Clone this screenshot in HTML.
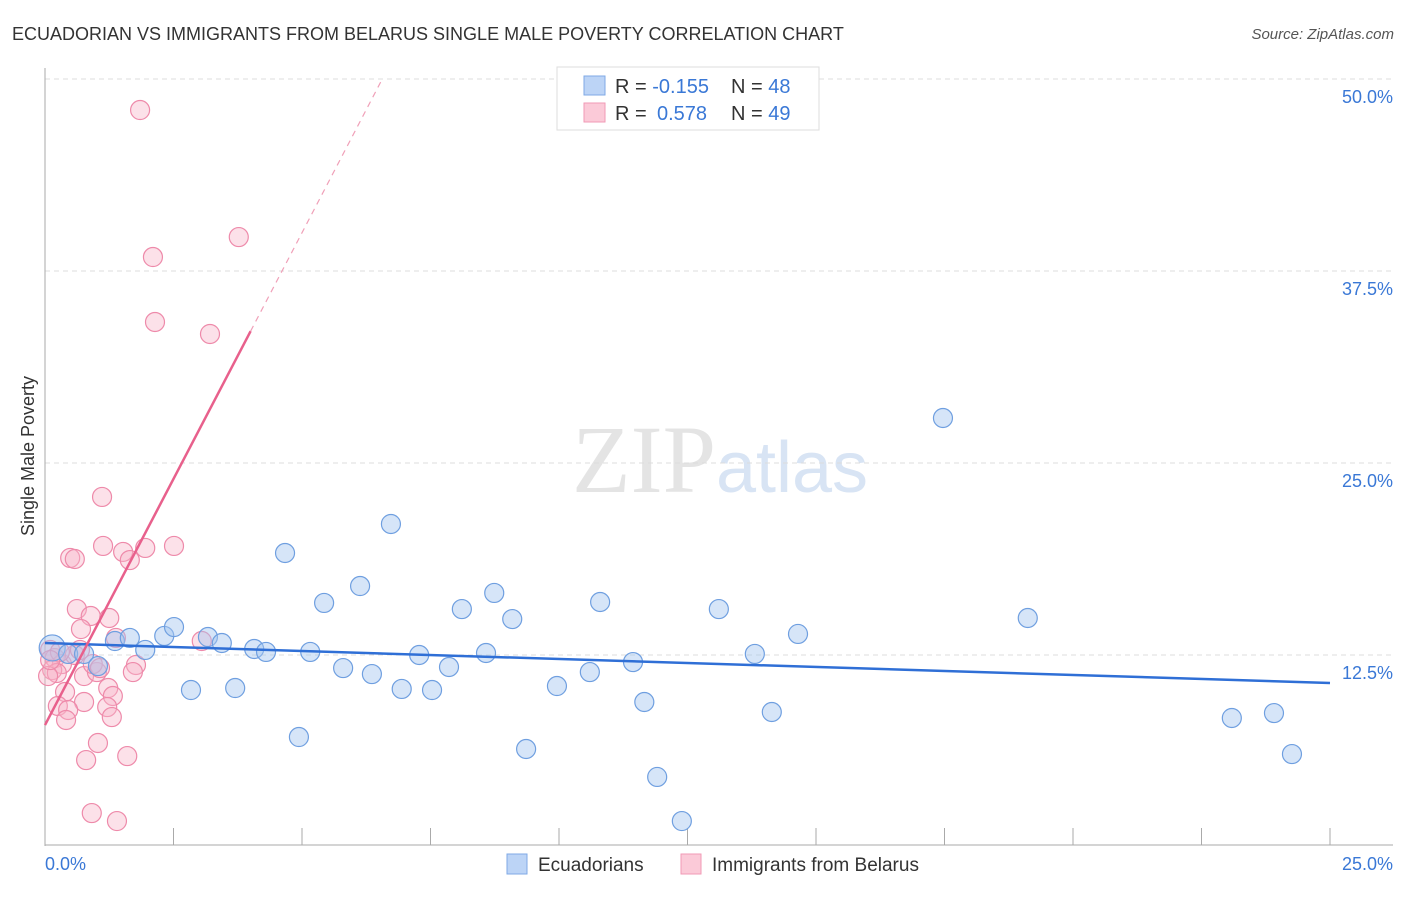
<!DOCTYPE html>
<html><head><meta charset="utf-8"><style>
body{margin:0;background:#fff;font-family:"Liberation Sans",sans-serif;}
svg text{font-family:"Liberation Sans",sans-serif;}
</style></head><body>
<svg id="chart" width="1406" height="892" viewBox="0 0 1406 892">
<text x="12" y="40" font-size="18" fill="#333">ECUADORIAN VS IMMIGRANTS FROM BELARUS SINGLE MALE POVERTY CORRELATION CHART</text>
<text x="1394" y="39" font-size="15" fill="#555" font-style="italic" text-anchor="end">Source: ZipAtlas.com</text>
<text x="720" y="492" font-size="96" fill="#e4e4e4" text-anchor="middle" font-family="Liberation Serif"><tspan font-family="Liberation Serif">ZIP</tspan><tspan fill="#d8e4f4" font-family="Liberation Sans" font-size="72">atlas</tspan></text>
<g id="grid"></g>
<g id="axes"></g>
<g id="marks"></g>
<text transform="translate(34,456) rotate(-90)" font-size="18" fill="#333" text-anchor="middle">Single Male Poverty</text>
<g>
<rect x="557" y="67" width="262" height="63" fill="#fff" stroke="#ddd"/>
<rect x="584" y="76" width="21" height="19" fill="#bcd4f6" stroke="#7fa9e6"/>
<rect x="584" y="103" width="21" height="19" fill="#fbcad8" stroke="#f09ab6"/>
<text x="615" y="93" font-size="20" fill="#333">R = <tspan fill="#3a78d6">-0.155</tspan></text>
<text x="731" y="93" font-size="20" fill="#333">N = <tspan fill="#3a78d6">48</tspan></text>
<text x="615" y="120" font-size="20" fill="#333">R = <tspan fill="#3a78d6" x="657">0.578</tspan></text>
<text x="731" y="120" font-size="20" fill="#333">N = <tspan fill="#3a78d6">49</tspan></text>
</g>
<g>
<rect x="507" y="854" width="20" height="20" fill="#bcd4f6" stroke="#7fa9e6"/>
<text x="538" y="871" font-size="19" fill="#333">Ecuadorians</text>
<rect x="681" y="854" width="20" height="20" fill="#fbcad8" stroke="#f09ab6"/>
<text x="712" y="871" font-size="19" fill="#333">Immigrants from Belarus</text>
</g>
</svg>
<script>
const yTicks=[12.5,25,37.5,50];
const yTickLabels=["12.5%","25.0%","37.5%","50.0%"];
const xTickLabels=["0.0%","25.0%"];
const blueX=[.14,.45,.76,1.03,1.36,1.65,1.95,2.32,2.51,2.84,3.17,3.44,3.70,4.07,4.30,4.67,4.94,5.16,5.43,5.80,6.13,6.36,6.73,6.94,7.28,7.53,7.86,8.11,8.58,8.74,9.09,9.36,9.96,10.60,10.80,11.44,11.66,11.91,12.39,13.11,13.81,14.14,14.65,17.47,19.12,23.09,23.91,24.26];
const blueY=[12.96,12.57,12.57,11.78,13.41,13.61,12.83,13.74,14.32,10.22,13.67,13.28,10.35,12.89,12.70,19.14,7.16,12.70,15.89,11.65,16.99,11.26,21.03,10.29,12.50,10.22,11.72,15.49,12.63,16.54,14.84,6.38,10.48,11.39,15.95,12.04,9.44,4.56,1.69,15.49,12.57,8.79,13.87,27.93,14.91,8.40,8.72,6.05];
const pinkX=[1.85,3.77,2.10,2.14,3.21,1.11,.49,.58,1.13,1.52,1.95,2.51,1.65,.62,.89,1.25,.70,1.38,3.05,.10,.19,.33,.14,.23,.06,.76,1.01,1.77,1.71,.39,1.23,1.32,.76,.25,.45,1.21,1.30,.41,1.03,1.60,.80,.91,1.40,.58,.93,.29,1.07,.10,.68];
const pinkY=[47.98,39.71,38.41,34.18,33.40,22.79,18.82,18.75,19.60,19.21,19.47,19.60,18.68,15.49,15.04,14.91,14.19,13.61,13.41,12.83,12.30,11.91,11.52,11.33,11.13,11.13,11.39,11.85,11.39,10.09,10.35,9.83,9.44,9.18,8.92,9.11,8.46,8.27,6.77,5.92,5.66,2.21,1.69,12.50,11.91,12.70,11.65,12.17,12.83];
const blueTrend=[13.28,10.68];
const pinkTrend=[7.94,6.41];
const NS="http://www.w3.org/2000/svg";
const X=v=>45+v/25*1285, Y=v=>847-v/50*768;
function mk(t,a,p){const e=document.createElementNS(NS,t);for(const k in a)e.setAttribute(k,a[k]);p.appendChild(e);return e;}
const grid=document.getElementById('grid'),axes=document.getElementById('axes'),marks=document.getElementById('marks');
yTicks.forEach((t,i)=>{
 const l=mk('line',{x1:45,x2:1393,y1:Y(t),y2:Y(t),stroke:'#ddd','stroke-dasharray':'5,4'},grid);
 
 
 const tx=mk('text',{x:1393,y:Y(t)+24,'font-size':18,fill:'#3a78d6','text-anchor':'end'},axes);tx.textContent=yTickLabels[i];
 
 
});
mk('line',{x1:45,x2:45,y1:68,y2:846,stroke:'#aaa'},axes);
mk('line',{x1:45,x2:1393,y1:845,y2:845,stroke:'#aaa'},axes);
for(let i=1;i<=10;i++){mk('line',{x1:X(i*2.5),x2:X(i*2.5),y1:828,y2:845,stroke:'#aaa'},axes);}
[[0,45,'start'],[25,1393,'end']].forEach((d,i)=>{const t=mk('text',{x:d[1],y:870,'font-size':18,fill:'#3a78d6','text-anchor':d[2]},axes);t.textContent=xTickLabels[i];
 
 });
function pts(xs,ys,fill,stroke,name){xs.forEach((x,i)=>{const c=mk('circle',{cx:X(x),cy:Y(ys[i]),r:i==0&&name=='ecuadorian-point'?13:9.5,fill:fill,stroke:stroke,'stroke-width':1.2},marks);
 
 });}
pts(pinkX,pinkY,'rgba(248,180,200,0.4)','#ee8aaa','belarus-point');
pts(blueX,blueY,'rgba(165,198,240,0.45)','#6f9fe0','ecuadorian-point');
const bt=mk('line',{x1:X(0),y1:Y(blueTrend[0]),x2:X(25),y2:Y(blueTrend[1]),stroke:'#2f6fd6','stroke-width':2.5},marks);


const pe=4, pd=(50-pinkTrend[0])/pinkTrend[1];
const pt=mk('line',{x1:X(0),y1:Y(pinkTrend[0]),x2:X(pe),y2:Y(pinkTrend[0]+pinkTrend[1]*pe),stroke:'#e8608c','stroke-width':2.5},marks);


const pdl=mk('line',{x1:X(pe),y1:Y(pinkTrend[0]+pinkTrend[1]*pe),x2:X(pd),y2:Y(pinkTrend[0]+pinkTrend[1]*pd),stroke:'#f0a0b8','stroke-width':1.2,'stroke-dasharray':'6,5'},marks);


</script>
</body></html>
